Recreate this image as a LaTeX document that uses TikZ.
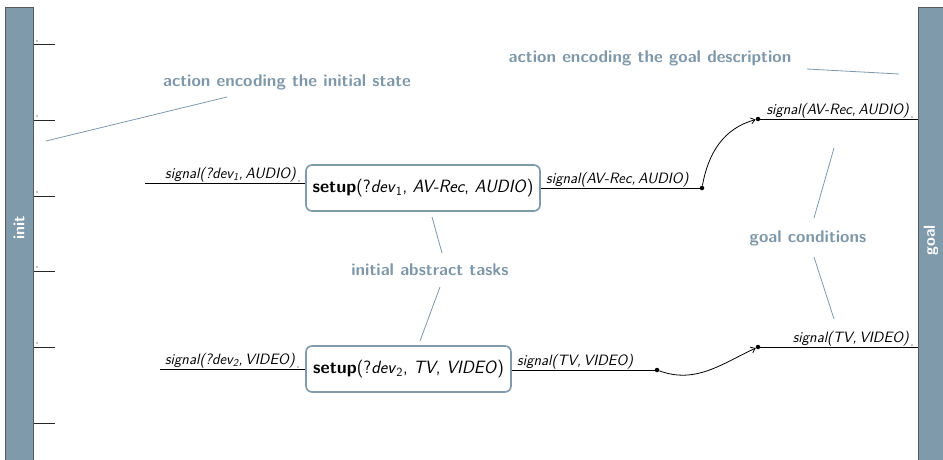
\documentclass[tikz,border=0pt]{standalone}
\usetikzlibrary{arrows.meta}
\definecolor{barc}{HTML}{7F9AAB}
\definecolor{annc}{HTML}{7E98A9}
\begin{document}
\begin{tikzpicture}[x=1pt,y=-1pt,
  setupbox/.style={draw=barc, line width=1.6pt, rounded corners=6pt, fill=white, inner sep=0pt,
    minimum height=46pt, font=\fontsize{17.8}{20}\selectfont\sffamily},
  sig/.style={font=\fontsize{15}{17}\selectfont\sffamily\itshape, inner sep=1pt},
  ann/.style={text=annc, font=\fontsize{17}{20}\selectfont\sffamily\bfseries, inner sep=1pt},
  annline/.style={draw=annc, line width=0.8pt},
  wire/.style={line width=0.8pt},
  tickline/.style={line width=1pt, black!85},
  ptdot/.style={circle, fill, inner sep=0pt, minimum size=4.5pt},
  smalldot/.style={circle, fill, inner sep=0pt, minimum size=1.2pt},
  bar/.style={fill=barc, draw=black!65, line width=1pt, inner sep=0pt, anchor=north west},
  barlabel/.style={rotate=90, text=white, font=\fontsize{16}{18}\selectfont\sffamily\bfseries}]
\useasboundingbox (0,0) rectangle (943,459);

% bars
\node[bar, minimum width=28pt, minimum height=460pt] (init) at (5,7) {};
\node[barlabel] (initl) at (19,228) {init};
\node[bar, minimum width=32pt, minimum height=460pt] (goal) at (918,7) {};
\node[barlabel] (goall) at (931,240) {goal};

% ticks from init
\foreach \y [count=\i] in {44,120,196,271,347,423}{
  \coordinate (t\i) at (55,\y);
  \draw[tickline] (init.east |- t\i) -- (t\i);
}
\foreach \y [count=\i] in {41,116,192,267,343}{
  \node[smalldot] (td\i) at (37,\y) {};
}

% setup nodes
\node[setupbox, minimum width=234pt] (s1) at (423,188)
  {\textbf{setup}(?\textit{dev}\textsubscript{1}, \textit{AV-Rec}, \textit{AUDIO})};
\node[setupbox, minimum width=205pt] (s2) at (408.5,369)
  {\textbf{setup}(?\textit{dev}\textsubscript{2}, \textit{TV}, \textit{VIDEO})};

% input wires
\coordinate (in1) at (145,183);
\draw[wire] (in1) -- (s1.west |- in1) coordinate (in1e);
\node[sig, anchor=south east] (l1) at (297,183) {signal(?\textit{dev}\textsubscript{1},\,\textit{AUDIO})};
\node[smalldot] (l1d) at (299,181) {};

\coordinate (in2) at (160,369);
\draw[wire] (in2) -- (s2.west |- in2);
\node[sig, anchor=south east] (l2) at (296,369) {signal(?\textit{dev}\textsubscript{2},\,\textit{VIDEO})};
\node[smalldot] (l2d) at (298,367) {};

% output wires
\node[ptdot] (o1) at (702,188) {};
\draw[wire] (s1.east |- o1) -- (o1);
\node[sig, anchor=south west] (ol1) at (545,188) {signal(\textit{AV-Rec},\,\textit{AUDIO})};

\node[ptdot] (o2) at (657,370) {};
\draw[wire] (s2.east |- o2) -- (o2);
\node[sig, anchor=south west] (ol2) at (516,370) {signal(\textit{TV},\,\textit{VIDEO})};

% goal-side wires
\node[ptdot] (g1) at (758,119) {};
\draw[wire] (g1) -- (goal.west |- g1);
\node[sig, anchor=south east] (gl1) at (910,119) {signal(\textit{AV-Rec},\,\textit{AUDIO})};
\node[smalldot] (gl1d) at (912,117) {};

\node[ptdot] (g2) at (758,347) {};
\draw[wire] (g2) -- (goal.west |- g2);
\node[sig, anchor=south east] (gl2) at (910,347) {signal(\textit{TV},\,\textit{VIDEO})};
\node[smalldot] (gl2d) at (912,345) {};

% curved links
\draw[wire, -{Straight Barb[length=4pt,width=6pt]}] (o1) to[out=80, in=195] (g1);
\draw[wire, -{Straight Barb[length=4pt,width=6pt]}] (o2) to[out=-20, in=205] (g2);

% annotations
\node[ann] (a1) at (287,82) {action encoding the initial state};
\coordinate (a1s) at (227,97);
\coordinate (a1e) at (46,141);
\draw[annline] (a1s) -- (a1e);

\node[ann] (a2) at (650,58) {action encoding the goal description};
\coordinate (a2s) at (807,69);
\coordinate (a2e) at (899,74);
\draw[annline] (a2s) -- (a2e);

\node[ann] (a3) at (430,270) {initial abstract tasks};
\coordinate (a3u1) at (442,253);
\coordinate (a3u2) at (432,217);
\coordinate (a3l1) at (440,287);
\coordinate (a3l2) at (420,341);
\draw[annline] (a3u1) -- (a3u2);
\draw[annline] (a3l1) -- (a3l2);

\node[ann] (a4) at (808,238) {goal conditions};
\coordinate (a4u1) at (814,218);
\coordinate (a4u2) at (834,148);
\coordinate (a4l1) at (814,257);
\coordinate (a4l2) at (834,319);
\draw[annline] (a4u1) -- (a4u2);
\draw[annline] (a4l1) -- (a4l2);
\end{tikzpicture}
\end{document}
